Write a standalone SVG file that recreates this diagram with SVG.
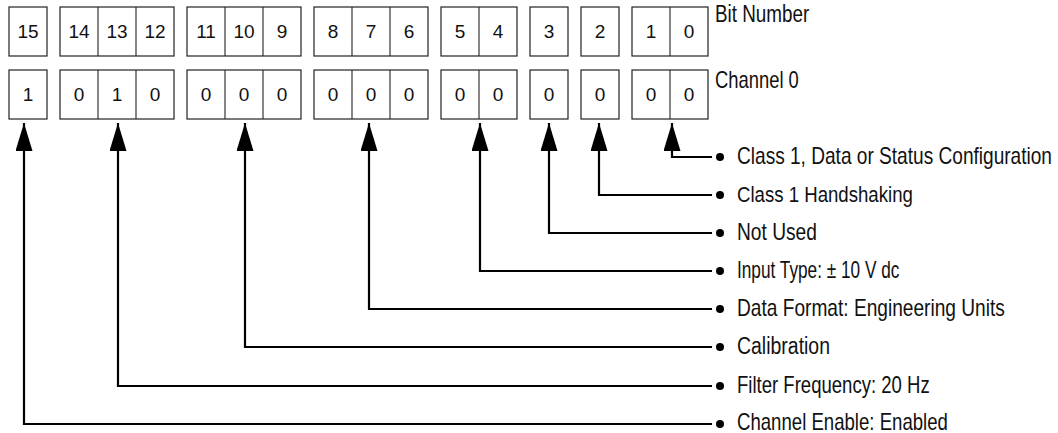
<svg xmlns="http://www.w3.org/2000/svg" width="1058" height="433" viewBox="0 0 1058 433">
<style>
.box{fill:#fff;stroke:#222;stroke-width:1.2}
.div{stroke:#222;stroke-width:1.1}
.num{font-family:"Liberation Sans",Arial,sans-serif;font-size:19px;fill:#111;text-anchor:middle}
.lbl{font-family:"Liberation Sans",Arial,sans-serif;font-size:23px;fill:#111}
.conn{fill:none;stroke:#000;stroke-width:2.2}
.dot{fill:#000}
</style>
<defs>
<marker id="arr" markerUnits="userSpaceOnUse" markerWidth="30" markerHeight="18" refX="28" refY="8.5" orient="auto-start-reverse">
<path d="M0,0 L28,8.5 L0,17 z" fill="#000"/>
</marker>
</defs>
<rect width="1058" height="433" fill="#fff"/>
<g id="bit-numbers">
<rect class="box" x="9" y="7" width="38" height="49"/>
<rect class="box" x="60" y="7" width="114" height="49"/><line class="div" x1="98" y1="7" x2="98" y2="56"/><line class="div" x1="136" y1="7" x2="136" y2="56"/>
<rect class="box" x="187" y="7" width="114" height="49"/><line class="div" x1="225" y1="7" x2="225" y2="56"/><line class="div" x1="263" y1="7" x2="263" y2="56"/>
<rect class="box" x="314" y="7" width="114" height="49"/><line class="div" x1="352" y1="7" x2="352" y2="56"/><line class="div" x1="390" y1="7" x2="390" y2="56"/>
<rect class="box" x="441" y="7" width="76" height="49"/><line class="div" x1="479" y1="7" x2="479" y2="56"/>
<rect class="box" x="530" y="7" width="38" height="49"/>
<rect class="box" x="581" y="7" width="38" height="49"/>
<rect class="box" x="632" y="7" width="76" height="49"/><line class="div" x1="670" y1="7" x2="670" y2="56"/>
<text class="num" x="28" y="38">15</text>
<text class="num" x="79" y="38">14</text>
<text class="num" x="117" y="38">13</text>
<text class="num" x="155" y="38">12</text>
<text class="num" x="206" y="38">11</text>
<text class="num" x="244" y="38">10</text>
<text class="num" x="282" y="38">9</text>
<text class="num" x="333" y="38">8</text>
<text class="num" x="371" y="38">7</text>
<text class="num" x="409" y="38">6</text>
<text class="num" x="460" y="38">5</text>
<text class="num" x="498" y="38">4</text>
<text class="num" x="549" y="38">3</text>
<text class="num" x="600" y="38">2</text>
<text class="num" x="651" y="38">1</text>
<text class="num" x="689" y="38">0</text>
<text class="lbl" transform="translate(715,22) scale(0.82,1)">Bit Number</text>
</g>
<g id="channel-0">
<rect class="box" x="9" y="70" width="38" height="49"/>
<rect class="box" x="60" y="70" width="114" height="49"/><line class="div" x1="98" y1="70" x2="98" y2="119"/><line class="div" x1="136" y1="70" x2="136" y2="119"/>
<rect class="box" x="187" y="70" width="114" height="49"/><line class="div" x1="225" y1="70" x2="225" y2="119"/><line class="div" x1="263" y1="70" x2="263" y2="119"/>
<rect class="box" x="314" y="70" width="114" height="49"/><line class="div" x1="352" y1="70" x2="352" y2="119"/><line class="div" x1="390" y1="70" x2="390" y2="119"/>
<rect class="box" x="441" y="70" width="76" height="49"/><line class="div" x1="479" y1="70" x2="479" y2="119"/>
<rect class="box" x="530" y="70" width="38" height="49"/>
<rect class="box" x="581" y="70" width="38" height="49"/>
<rect class="box" x="632" y="70" width="76" height="49"/><line class="div" x1="670" y1="70" x2="670" y2="119"/>
<text class="num" x="28" y="101">1</text>
<text class="num" x="79" y="101">0</text>
<text class="num" x="117" y="101">1</text>
<text class="num" x="155" y="101">0</text>
<text class="num" x="206" y="101">0</text>
<text class="num" x="244" y="101">0</text>
<text class="num" x="282" y="101">0</text>
<text class="num" x="333" y="101">0</text>
<text class="num" x="371" y="101">0</text>
<text class="num" x="409" y="101">0</text>
<text class="num" x="460" y="101">0</text>
<text class="num" x="498" y="101">0</text>
<text class="num" x="549" y="101">0</text>
<text class="num" x="600" y="101">0</text>
<text class="num" x="651" y="101">0</text>
<text class="num" x="689" y="101">0</text>
<text class="lbl" transform="translate(715,88) scale(0.8,1)">Channel 0</text>
</g>
<g id="connectors">
<path class="conn" d="M672,123 V157 H712" marker-start="url(#arr)"/>
<path class="conn" d="M599,123 V195 H712" marker-start="url(#arr)"/>
<path class="conn" d="M549,123 V233 H712" marker-start="url(#arr)"/>
<path class="conn" d="M480,123 V271 H712" marker-start="url(#arr)"/>
<path class="conn" d="M369,123 V309 H712" marker-start="url(#arr)"/>
<path class="conn" d="M245,123 V347 H712" marker-start="url(#arr)"/>
<path class="conn" d="M118,123 V386 H712" marker-start="url(#arr)"/>
<path class="conn" d="M24,123 V424 H712" marker-start="url(#arr)"/>
</g>
<g id="label-class1-config"><circle class="dot" cx="720" cy="157" r="4"/><text class="lbl" transform="translate(737,164) scale(0.83,1)">Class 1, Data or Status Configuration</text></g>
<g id="label-class1-handshaking"><circle class="dot" cx="720" cy="195" r="4"/><text class="lbl" transform="translate(737,202) scale(0.81,1)">Class 1 Handshaking</text></g>
<g id="label-not-used"><circle class="dot" cx="720" cy="233" r="4"/><text class="lbl" transform="translate(737,240) scale(0.834,1)">Not Used</text></g>
<g id="label-input-type"><circle class="dot" cx="720" cy="271" r="4"/><text class="lbl" transform="translate(737,278) scale(0.75,1)">Input Type: ± 10 V dc</text></g>
<g id="label-data-format"><circle class="dot" cx="720" cy="309" r="4"/><text class="lbl" transform="translate(737,316) scale(0.832,1)">Data Format: Engineering Units</text></g>
<g id="label-calibration"><circle class="dot" cx="720" cy="347" r="4"/><text class="lbl" transform="translate(737,354) scale(0.846,1)">Calibration</text></g>
<g id="label-filter-frequency"><circle class="dot" cx="720" cy="386" r="4"/><text class="lbl" transform="translate(737,393) scale(0.807,1)">Filter Frequency: 20 Hz</text></g>
<g id="label-channel-enable"><circle class="dot" cx="720" cy="424" r="4"/><text class="lbl" transform="translate(737,430) scale(0.809,1)">Channel Enable: Enabled</text></g>
</svg>
